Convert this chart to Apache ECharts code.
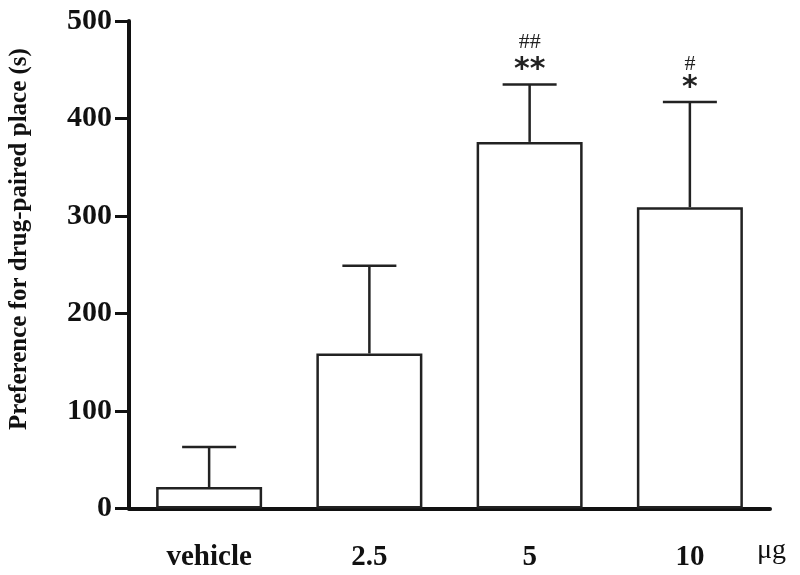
<!DOCTYPE html>
<html><head><meta charset="utf-8">
<script src="https://cdn.jsdelivr.net/npm/echarts@6/dist/echarts.min.js"></script>
<style>html,body{margin:0;padding:0;background:#fff}#c{width:800px;height:575px}</style>
</head><body><div id="c"></div>
<script>
var categories = ['vehicle', '2.5', '5', '10'];
var means = [22, 159, 376, 309];
var errorTops = [63, 249, 435, 417];
var sigStars = ['', '', '**', '*'];
var sigHashes = ['', '', '##', '#'];
var yTicks = [0, 100, 200, 300, 400, 500];
var yTitle = 'Preference for drug-paired place (s)';
var unitLabel = 'μg';

var serif = '"Liberation Serif","DejaVu Serif",serif';
var chart = echarts.init(document.getElementById('c'));
chart.setOption({
  animation: false,
  grid: { left: 129, right: 30, top: 21, bottom: 66.5, containLabel: false, outerBoundsMode: 'none' },
  xAxis: {
    type: 'category', data: categories,
    axisLine: { lineStyle: { color: '#111', width: 4 } },
    axisTick: { show: false },
    axisLabel: { color: '#111', fontFamily: serif, fontWeight: 'bold', fontSize: 29, margin: 35 }
  },
  yAxis: {
    type: 'value', min: yTicks[0], max: yTicks[yTicks.length-1], interval: 100,
    axisLine: { show: true, lineStyle: { color: '#111', width: 4 } },
    axisTick: { show: true, inside: false, length: 14, lineStyle: { color: '#111', width: 3 } },
    splitLine: { show: false },
    axisLabel: { color: '#111', fontFamily: serif, fontWeight: 'bold', fontSize: 30, margin: 17 }
  },
  graphic: [
    { type: 'text', left: 757, top: 537, style: { text: unitLabel, font: '28px ' + serif, fill: '#111' } },
    { type: 'text', x: 20, y: 239, rotation: Math.PI / 2,
      style: { text: yTitle, font: 'bold 25px ' + serif, fill: '#111', align: 'center', verticalAlign: 'middle' } }
  ],
  series: [
    {
      type: 'bar', data: means, barWidth: 106, z: 2,
      itemStyle: { color: '#fff', borderColor: '#222', borderWidth: 2.5 }
    },
    {
      type: 'custom', z: 3,
      data: categories.map(function (c, i) { return [i, means[i], errorTops[i]]; }),
      renderItem: function (params, api) {
        var i = api.value(0);
        var base = api.coord([i, api.value(1)]);
        var top = api.coord([i, api.value(2)]);
        var hw = 27;
        var children = [
          { type: 'line', shape: { x1: base[0], y1: base[1], x2: top[0], y2: top[1] }, style: { stroke: '#222', lineWidth: 2.5 } },
          { type: 'line', shape: { x1: top[0] - hw, y1: top[1], x2: top[0] + hw, y2: top[1] }, style: { stroke: '#222', lineWidth: 2.5 } }
        ];
        if (sigStars[i]) {
          children.push({ type: 'text', style: { text: sigStars[i], x: top[0], y: top[1] - 14, align: 'center', verticalAlign: 'middle', font: 'bold 30px "DejaVu Sans",sans-serif', fill: '#222' } });
        }
        if (sigHashes[i]) {
          children.push({ type: 'text', style: { text: sigHashes[i], x: top[0], y: top[1] - (sigHashes[i].length > 1 ? 42 : 38), align: 'center', verticalAlign: 'middle', font: '22px ' + serif, fill: '#222' } });
        }
        return { type: 'group', children: children };
      }
    }
  ]
});
</script></body></html>
